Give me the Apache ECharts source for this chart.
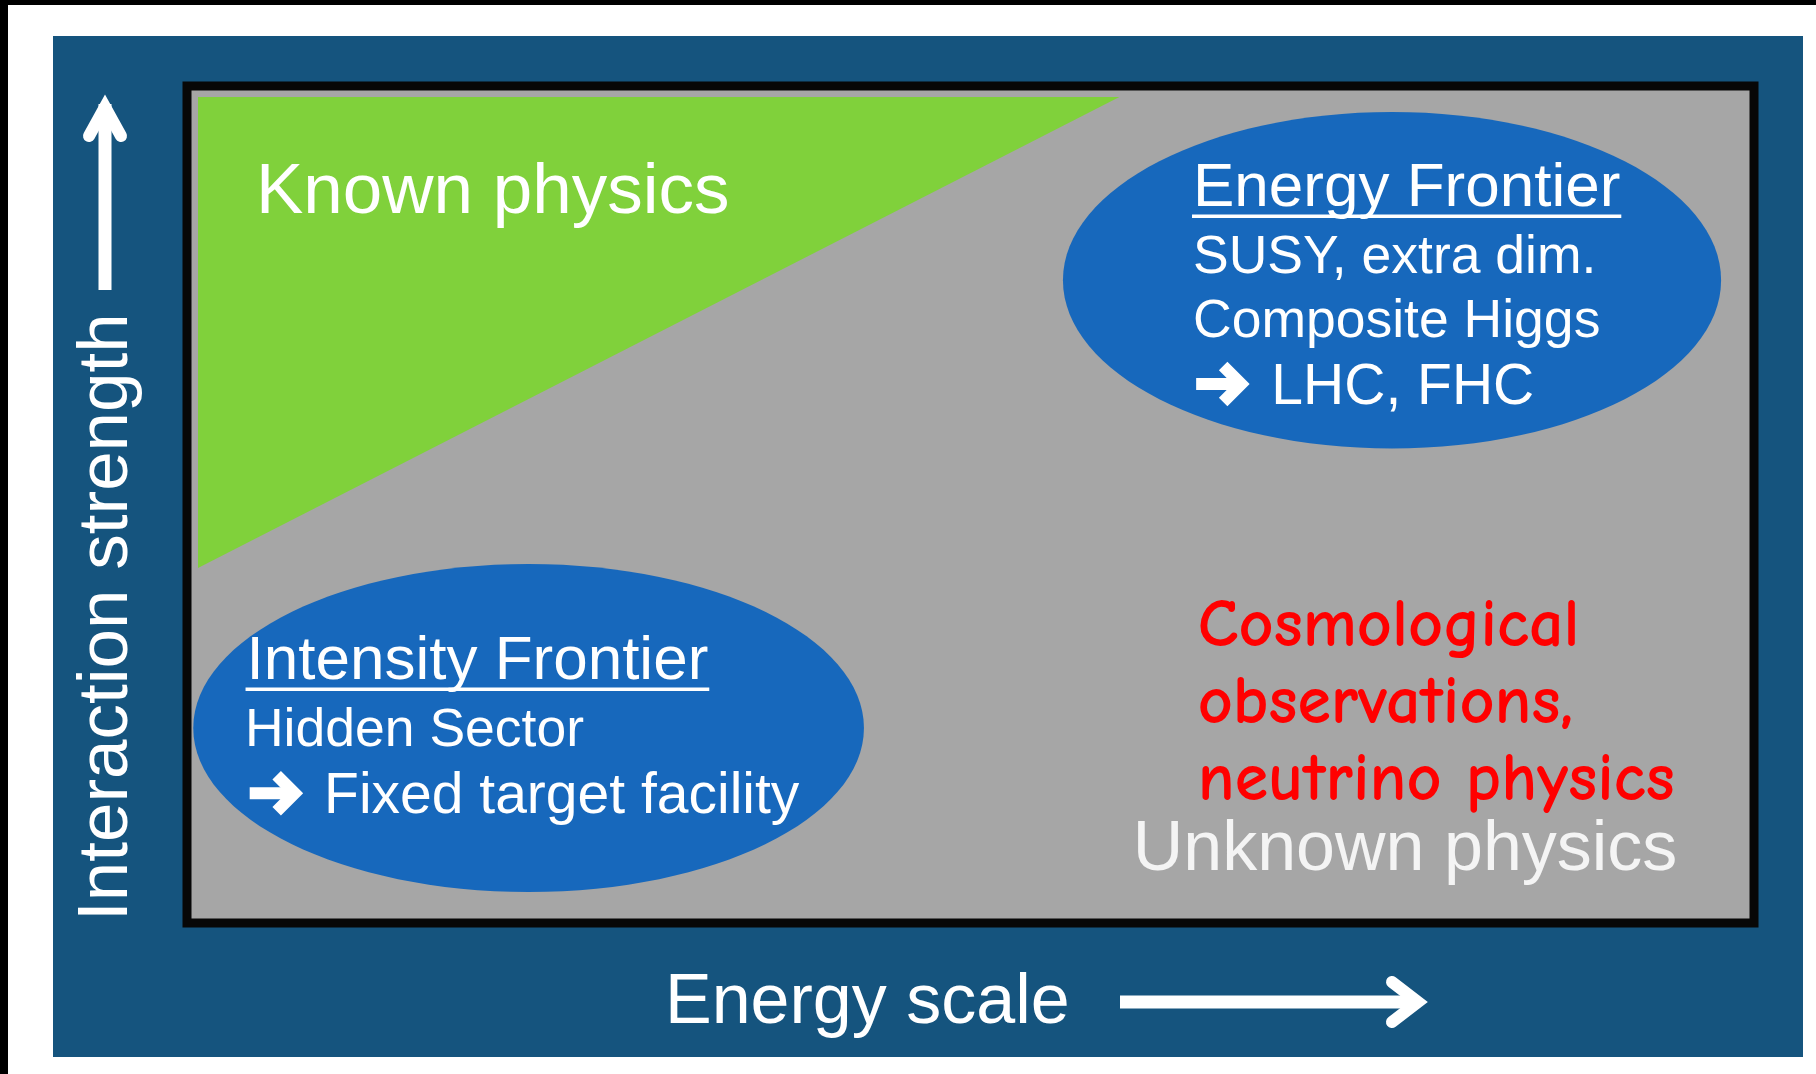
<!DOCTYPE html>
<html><head><meta charset="utf-8">
<script src="https://cdn.jsdelivr.net/npm/echarts@6/dist/echarts.min.js"></script>
<style>html,body{margin:0;padding:0;background:#fff;overflow:hidden;}#chart{width:1816px;height:1074px;}</style>
</head><body><div id="chart"></div>
<script>
// ---- axis titles ----
const xAxisTitle = 'Energy scale';
const yAxisTitle = 'Interaction strength';

// ---- "Known physics" wedge (data units: energy 0-100, strength 0-100) ----
const knownX = [0.7, 59.5, 0.7];
const knownY = [98.7, 98.7, 42.4];

// ---- frontier ellipses ----
const frontierNames = ['Energy Frontier', 'Intensity Frontier'];
const frontierCx = [76.9, 21.8];
const frontierCy = [76.8, 23.3];
const frontierRx = [21.0, 21.4];
const frontierRy = [20.1, 19.6];

// ---- text annotations (left x, baseline y in data units) ----
const labelText = ['Known physics', 'Energy Frontier', 'SUSY, extra dim.', 'Composite Higgs', 'LHC, FHC',
  'Intensity Frontier', 'Hidden Sector', 'Fixed target facility',
  'Cosmological', 'observations,', 'neutrino physics', 'Unknown physics'];
const labelX = [4.4, 64.2, 64.2, 64.2, 69.2, 3.8, 3.7, 8.75, 64.5, 64.5, 64.5, 60.35];
const labelY = [84.6, 85.5, 77.5, 69.8, 61.9, 29.0, 21.0, 13.0, 33.0, 23.7, 14.5, 6.1];
const labelKind = ['known', 'title', 'line', 'line', 'big', 'title', 'line', 'big', 'note', 'note', 'note', 'unknown'];

// ---- pointer arrows before the facility lines ----
const pointerX = [64.4, 4.0];
const pointerY = [61.9, 13.0];

// ---- styles ----
const ARIAL = '"Liberation Sans", Arial, sans-serif';
const COMIC = '"Comic Sans MS", "Comic Neue", "Open Sans", sans-serif';
const labelStyles = {
  known:   { size: 71, family: ARIAL, color: '#ffffff' },
  unknown: { size: 70, family: ARIAL, color: '#f4f4f4' },
  title:   { size: 62, family: ARIAL, color: '#ffffff', underline: true },
  line:    { size: 53.5, family: ARIAL, color: '#ffffff' },
  big:     { size: 57, family: ARIAL, color: '#ffffff' },
  note:    { size: 68, family: COMIC, color: '#ff0000', weight: 'bold' }
};
const MID = 0.30;
const NAVY = '#15547e', GRAY = '#a6a6a6', GREEN = '#80d13b', BLUE = '#1768bc', FRAME = '#070707';

const measureCtx = document.createElement('canvas').getContext('2d');
function textWidth(txt, size, family) {
  measureCtx.font = size + 'px ' + family;
  return measureCtx.measureText(txt).width;
}

const chart = echarts.init(document.getElementById('chart'), null, { renderer: 'canvas' });

const option = {
  backgroundColor: '#ffffff',
  animation: false,
  grid: { left: 187, top: 86, width: 1567, height: 837, show: true,
          backgroundColor: GRAY, borderColor: FRAME, borderWidth: 9, z: 1 },
  xAxis: { type: 'value', min: 0, max: 100, show: false },
  yAxis: { type: 'value', min: 0, max: 100, show: false },
  graphic: [
    { type: 'rect', z: -10, silent: true, shape: { x: 53, y: 36, width: 1750, height: 1021 }, style: { fill: NAVY } },
    { type: 'rect', z: -10, silent: true, shape: { x: 0, y: 0, width: 8, height: 1074 }, style: { fill: '#000' } },
    { type: 'rect', z: -10, silent: true, shape: { x: 0, y: 0, width: 1816, height: 5 }, style: { fill: '#000' } },
    // y-axis arrow
    { type: 'polyline', z: 5, silent: true, shape: { points: [[105, 290], [105, 104]] },
      style: { stroke: '#fff', lineWidth: 13, fill: null } },
    { type: 'polyline', z: 5, silent: true, shape: { points: [[89, 136], [105, 107], [121, 136]] },
      style: { stroke: '#fff', lineWidth: 12, lineCap: 'round', lineJoin: 'miter', fill: null } },
    // x-axis arrow
    { type: 'polyline', z: 5, silent: true, shape: { points: [[1120, 1002], [1414, 1002]] },
      style: { stroke: '#fff', lineWidth: 13, fill: null } },
    { type: 'polyline', z: 5, silent: true, shape: { points: [[1392, 982], [1418, 1002], [1392, 1022]] },
      style: { stroke: '#fff', lineWidth: 12, lineCap: 'round', lineJoin: 'miter', fill: null } },
    // axis titles
    { type: 'text', z: 5, silent: true, x: 665, y: 1025 - 70 * MID,
      style: { text: xAxisTitle, fill: '#fff', fontSize: 70, fontFamily: ARIAL, align: 'left', verticalAlign: 'middle' } },
    { type: 'text', z: 5, silent: true, x: 129 - 71 * MID, y: 921, rotation: Math.PI / 2,
      style: { text: yAxisTitle, fill: '#fff', fontSize: 71, fontFamily: ARIAL, align: 'left', verticalAlign: 'middle' } }
  ],
  series: [
    {
      name: 'Known physics region', type: 'custom', z: 2, silent: true,
      data: [[knownX[0], knownY[0]]],
      renderItem: function (params, api) {
        const pts = knownX.map((x, i) => api.coord([x, knownY[i]]));
        return { type: 'polygon', shape: { points: pts }, style: { fill: GREEN } };
      }
    },
    {
      name: 'Frontiers', type: 'custom', z: 3, silent: true,
      data: frontierNames.map((n, i) => [frontierCx[i], frontierCy[i], frontierRx[i], frontierRy[i]]),
      renderItem: function (params, api) {
        const c = api.coord([api.value(0), api.value(1)]);
        const s = api.size([api.value(2), api.value(3)]);
        return { type: 'ellipse', shape: { cx: c[0], cy: c[1], rx: s[0], ry: s[1] }, style: { fill: BLUE } };
      }
    },
    {
      name: 'Pointers', type: 'custom', z: 4, silent: true,
      data: pointerX.map((x, i) => [x, pointerY[i]]),
      renderItem: function (params, api) {
        const p = api.coord([api.value(0), api.value(1)]);
        const yc = p[1] - 21;
        const x0 = p[0];
        return { type: 'group', children: [
          { type: 'polyline', shape: { points: [[x0, yc], [x0 + 40, yc]] },
            style: { stroke: '#fff', lineWidth: 12, fill: null } },
          { type: 'polyline', shape: { points: [[x0 + 27, yc - 18], [x0 + 45, yc], [x0 + 27, yc + 18]] },
            style: { stroke: '#fff', lineWidth: 12, lineJoin: 'miter', lineCap: 'butt', fill: null } }
        ] };
      }
    },
    {
      name: 'Labels', type: 'custom', z: 5, silent: true,
      data: labelX.map((x, i) => [x, labelY[i]]),
      renderItem: function (params, api) {
        const i = params.dataIndex;
        const p = api.coord([api.value(0), api.value(1)]);
        const st = labelStyles[labelKind[i]];
        const children = [{
          type: 'text', x: p[0], y: p[1] - st.size * MID,
          style: { text: labelText[i], fill: st.color, fontSize: st.size, fontFamily: st.family,
                   fontWeight: st.weight || 'normal', align: 'left', verticalAlign: 'middle' }
        }];
        if (st.underline) {
          const w = textWidth(labelText[i], st.size, st.family);
          children.push({ type: 'line', shape: { x1: p[0] - 1, y1: p[1] + 9, x2: p[0] + w + 1, y2: p[1] + 9 },
                          style: { stroke: '#fff', lineWidth: 3.5 } });
        }
        return { type: 'group', children: children };
      }
    }
  ]
};
chart.setOption(option);
</script>
</body></html>
